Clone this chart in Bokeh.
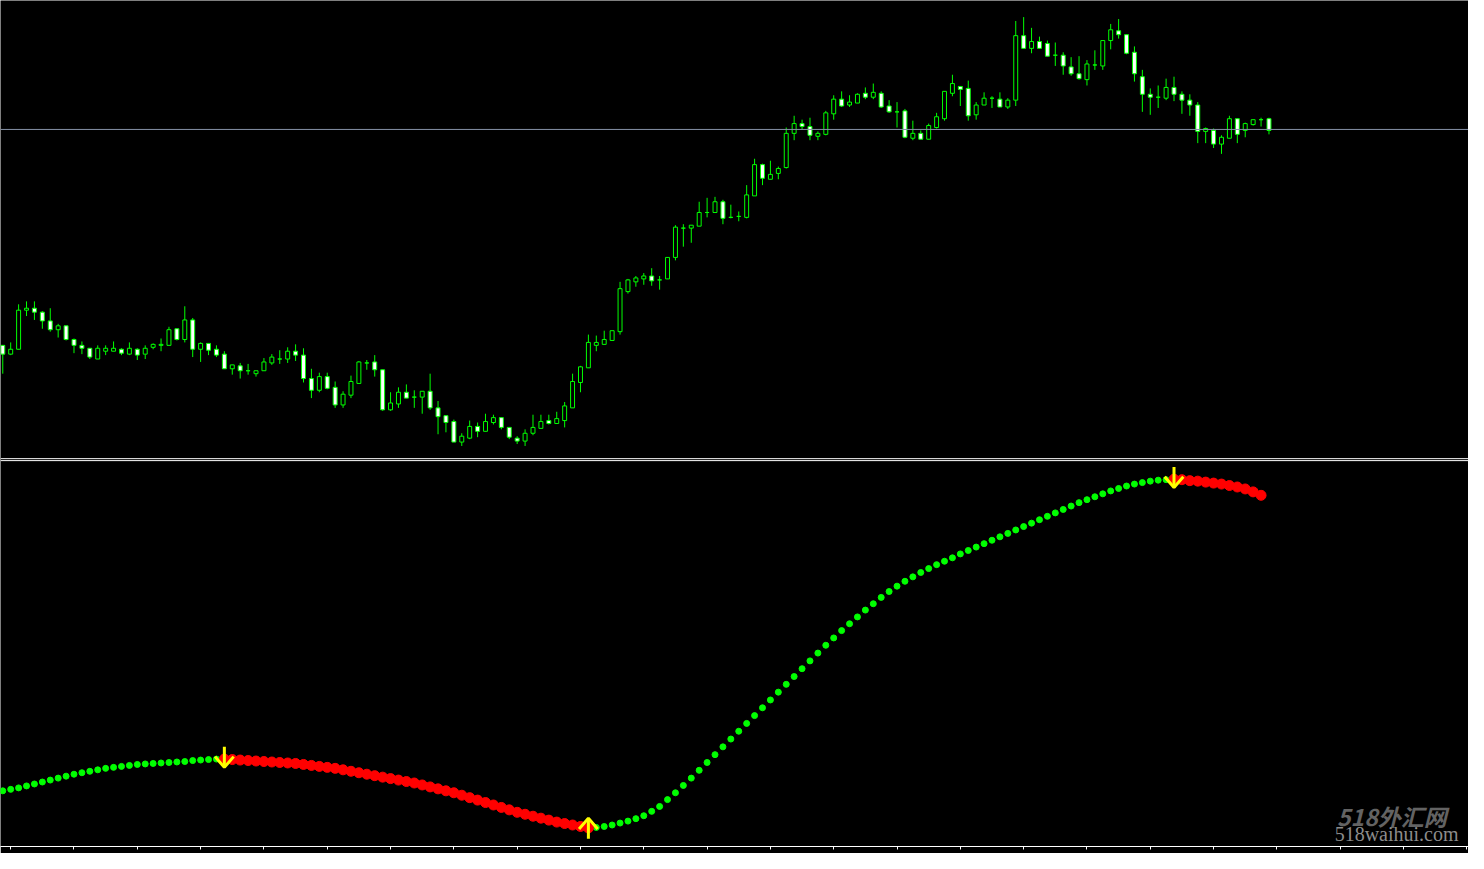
from bokeh.plotting import figure
from bokeh.models import Range1d, Span, Label, FixedTicker, ColumnDataSource
from bokeh.embed import file_html
from bokeh.resources import INLINE

# ---- price data (OHLC), one entry per bar ----
opens = [1.3147, 1.3138, 1.3143, 1.3183, 1.3185, 1.3181, 1.3172, 1.3163, 1.3167, 1.3153,
         1.3147, 1.3144, 1.3133, 1.3141, 1.3141, 1.3143, 1.3138, 1.3143, 1.3138, 1.3145,
         1.3147, 1.3147, 1.3164, 1.3153, 1.3173, 1.3143, 1.3149, 1.3143, 1.3138, 1.3123,
         1.3126, 1.3121, 1.3118, 1.3121, 1.3129, 1.3133, 1.3133, 1.3141, 1.3137, 1.3113,
         1.3101, 1.3115, 1.3104, 1.3086, 1.3096, 1.3108, 1.3129, 1.3130, 1.3122, 1.3081,
         1.3087, 1.3099, 1.3094, 1.3094, 1.3100, 1.3083, 1.3075, 1.3069, 1.3048, 1.3052,
         1.3064, 1.3059, 1.3068, 1.3073, 1.3063, 1.3052, 1.3049, 1.3057, 1.3062, 1.3070,
         1.3067, 1.3070, 1.3083, 1.3109, 1.3124, 1.3147, 1.3148, 1.3152, 1.3161, 1.3202,
         1.3212, 1.3215, 1.3218, 1.3214, 1.3215, 1.3237, 1.3267, 1.3267, 1.3269, 1.3283,
         1.3283, 1.3294, 1.3278, 1.3279, 1.3278, 1.3300, 1.3332, 1.3317, 1.3323, 1.3329,
         1.3364, 1.3374, 1.3371, 1.3361, 1.3363, 1.3384, 1.3399, 1.3393, 1.3395, 1.3405,
         1.3401, 1.3405, 1.3392, 1.3386, 1.3387, 1.3359, 1.3364, 1.3358, 1.3370, 1.3379,
         1.3405, 1.3412, 1.3410, 1.3383, 1.3393, 1.3400, 1.3399, 1.3391, 1.3398, 1.3464,
         1.3451, 1.3458, 1.3456, 1.3444, 1.3444, 1.3432, 1.3425, 1.3419, 1.3434, 1.3433,
         1.3459, 1.3469, 1.3465, 1.3447, 1.3422, 1.3404, 1.3401, 1.3400, 1.3411, 1.3404,
         1.3398, 1.3393, 1.3366, 1.3367, 1.3353, 1.3359, 1.3379, 1.3367, 1.3373, 1.3378,
         1.3379]
highs = [1.3147, 1.3150, 1.3189, 1.3192, 1.3192, 1.3182, 1.3185, 1.3169, 1.3167, 1.3154,
         1.3151, 1.3144, 1.3147, 1.3147, 1.3151, 1.3144, 1.3150, 1.3144, 1.3147, 1.3149,
         1.3154, 1.3166, 1.3164, 1.3187, 1.3175, 1.3150, 1.3149, 1.3147, 1.3141, 1.3127,
         1.3129, 1.3128, 1.3121, 1.3134, 1.3138, 1.3142, 1.3145, 1.3148, 1.3144, 1.3123,
         1.3119, 1.3119, 1.3110, 1.3100, 1.3116, 1.3131, 1.3132, 1.3137, 1.3122, 1.3099,
         1.3104, 1.3107, 1.3101, 1.3100, 1.3118, 1.3090, 1.3075, 1.3071, 1.3057, 1.3070,
         1.3068, 1.3077, 1.3076, 1.3073, 1.3063, 1.3054, 1.3061, 1.3076, 1.3076, 1.3076,
         1.3079, 1.3089, 1.3118, 1.3126, 1.3158, 1.3157, 1.3162, 1.3162, 1.3212, 1.3215,
         1.3218, 1.3221, 1.3226, 1.3218, 1.3237, 1.3270, 1.3271, 1.3270, 1.3294, 1.3298,
         1.3299, 1.3296, 1.3291, 1.3284, 1.3311, 1.3338, 1.3333, 1.3336, 1.3330, 1.3370,
         1.3382, 1.3378, 1.3380, 1.3366, 1.3387, 1.3403, 1.3407, 1.3403, 1.3405, 1.3411,
         1.3415, 1.3407, 1.3398, 1.3396, 1.3389, 1.3377, 1.3367, 1.3374, 1.3385, 1.3407,
         1.3424, 1.3412, 1.3418, 1.3396, 1.3406, 1.3402, 1.3406, 1.3400, 1.3479, 1.3483,
         1.3472, 1.3463, 1.3459, 1.3457, 1.3447, 1.3442, 1.3443, 1.3439, 1.3449, 1.3459,
         1.3476, 1.3481, 1.3465, 1.3453, 1.3429, 1.3410, 1.3413, 1.3420, 1.3422, 1.3407,
         1.3404, 1.3396, 1.3370, 1.3369, 1.3362, 1.3382, 1.3379, 1.3375, 1.3378, 1.3380,
         1.3380]
lows = [1.3118, 1.3137, 1.3143, 1.3177, 1.3173, 1.3164, 1.3161, 1.3155, 1.3152, 1.3139,
        1.3138, 1.3133, 1.3133, 1.3137, 1.3141, 1.3137, 1.3137, 1.3132, 1.3133, 1.3143,
        1.3141, 1.3147, 1.3152, 1.3150, 1.3135, 1.3130, 1.3137, 1.3135, 1.3123, 1.3117,
        1.3113, 1.3117, 1.3115, 1.3121, 1.3127, 1.3128, 1.3129, 1.3131, 1.3109, 1.3093,
        1.3099, 1.3102, 1.3083, 1.3083, 1.3093, 1.3108, 1.3122, 1.3115, 1.3080, 1.3080,
        1.3083, 1.3093, 1.3083, 1.3077, 1.3081, 1.3056, 1.3058, 1.3048, 1.3044, 1.3051,
        1.3053, 1.3059, 1.3066, 1.3061, 1.3051, 1.3046, 1.3044, 1.3055, 1.3062, 1.3066,
        1.3067, 1.3063, 1.3083, 1.3099, 1.3124, 1.3141, 1.3148, 1.3152, 1.3158, 1.3200,
        1.3207, 1.3209, 1.3208, 1.3204, 1.3215, 1.3234, 1.3248, 1.3252, 1.3269, 1.3278,
        1.3283, 1.3271, 1.3277, 1.3274, 1.3277, 1.3300, 1.3311, 1.3317, 1.3317, 1.3328,
        1.3357, 1.3368, 1.3357, 1.3357, 1.3362, 1.3378, 1.3391, 1.3391, 1.3395, 1.3399,
        1.3399, 1.3390, 1.3385, 1.3370, 1.3359, 1.3357, 1.3358, 1.3358, 1.3369, 1.3377,
        1.3402, 1.3392, 1.3377, 1.3378, 1.3393, 1.3390, 1.3391, 1.3389, 1.3392, 1.3451,
        1.3446, 1.3451, 1.3443, 1.3433, 1.3424, 1.3423, 1.3419, 1.3413, 1.3429, 1.3429,
        1.3450, 1.3461, 1.3445, 1.3417, 1.3386, 1.3383, 1.3390, 1.3398, 1.3397, 1.3384,
        1.3382, 1.3354, 1.3354, 1.3349, 1.3343, 1.3359, 1.3354, 1.3360, 1.3372, 1.3371,
        1.3363]
closes = [1.3138, 1.3143, 1.3183, 1.3185, 1.3181, 1.3172, 1.3163, 1.3167, 1.3153, 1.3147,
          1.3144, 1.3135, 1.3144, 1.3144, 1.3144, 1.3139, 1.3144, 1.3137, 1.3144, 1.3148,
          1.3148, 1.3163, 1.3153, 1.3173, 1.3143, 1.3149, 1.3142, 1.3137, 1.3123, 1.3127,
          1.3121, 1.3121, 1.3121, 1.3130, 1.3135, 1.3133, 1.3141, 1.3137, 1.3113, 1.3101,
          1.3115, 1.3103, 1.3086, 1.3097, 1.3110, 1.3130, 1.3129, 1.3122, 1.3081, 1.3088,
          1.3099, 1.3093, 1.3094, 1.3100, 1.3083, 1.3074, 1.3068, 1.3048, 1.3054, 1.3064,
          1.3059, 1.3069, 1.3073, 1.3063, 1.3053, 1.3049, 1.3057, 1.3063, 1.3069, 1.3067,
          1.3072, 1.3085, 1.3110, 1.3125, 1.3150, 1.3150, 1.3153, 1.3162, 1.3205, 1.3214,
          1.3216, 1.3218, 1.3213, 1.3214, 1.3237, 1.3268, 1.3267, 1.3270, 1.3283, 1.3283,
          1.3294, 1.3277, 1.3278, 1.3279, 1.3301, 1.3332, 1.3318, 1.3322, 1.3328, 1.3364,
          1.3374, 1.3371, 1.3362, 1.3364, 1.3385, 1.3399, 1.3392, 1.3396, 1.3404, 1.3401,
          1.3406, 1.3391, 1.3386, 1.3386, 1.3360, 1.3364, 1.3358, 1.3372, 1.3381, 1.3407,
          1.3415, 1.3409, 1.3382, 1.3393, 1.3400, 1.3400, 1.3391, 1.3398, 1.3464, 1.3451,
          1.3458, 1.3451, 1.3443, 1.3444, 1.3433, 1.3425, 1.3420, 1.3435, 1.3434, 1.3459,
          1.3470, 1.3465, 1.3446, 1.3425, 1.3404, 1.3401, 1.3401, 1.3411, 1.3404, 1.3398,
          1.3393, 1.3366, 1.3369, 1.3353, 1.3360, 1.3379, 1.3363, 1.3374, 1.3378, 1.3378,
          1.3367]

# ---- indicator (lower window), one value per bar, last bar not drawn ----
indicator = [57, 58.5, 60, 62, 64, 66, 68, 70, 72, 74,
             75.5, 77, 78.5, 80, 81, 82, 83, 84, 84.5, 85,
             85.5, 86, 86.5, 87, 88, 88.5, 89, 89.5, 89.5, 89,
             88.5, 88, 87.5, 87, 86.5, 86, 85.5, 85, 84, 83,
             82, 81, 80, 78.5, 77, 75.5, 74, 72.5, 71, 69.5,
             68, 66.5, 65, 63, 61, 59, 57, 55, 52.5, 50,
             47.5, 45, 42.5, 40, 37.5, 35, 33, 31, 29, 27,
             25, 23.5, 22, 20.5, 19, 19.5, 20.5, 22, 24, 26,
             28.5, 31.5, 36, 41, 48, 55, 62.5, 70, 78, 86,
             94, 102, 110, 118, 126, 134, 142, 150, 158, 166,
             174, 182, 190, 198, 206, 213.5, 221, 228, 235, 242,
             248.5, 255, 261, 266.5, 271.5, 276, 280.5, 284.5, 288.5, 292,
             295.5, 299.5, 303, 306.5, 310, 313.5, 317, 320.5, 324, 327.5,
             331, 334.5, 338, 341.5, 345, 348.5, 352, 355, 358, 361,
             364, 366.5, 369, 371, 372.5, 374, 375, 375.5, 376, 375.5,
             374.5, 374, 373, 372, 371, 369.5, 368, 366, 363, 359.5]
# trend segments: first bar of each segment and its direction
segment_start = [0, 28, 75, 148]
segment_trend = ["up", "down", "up", "down"]
# signal arrows (bar index)
sell_signals = [28, 148]
buy_signals = [74]

ask_price = 1.3368

BULL = "#00FF00"
GREEN_DOT = "#00FF00"
RED_DOT = "#FF0000"
ARROW = "#FFFF00"

n = len(opens)
bars = list(range(n))

p = figure(width=1468, height=853, output_backend="svg", toolbar_location=None,
           x_range=Range1d(-0.2875, 185.2125), y_range=Range1d(1.2634, 1.35),
           y_axis_location=None, min_border=0,
           background_fill_color="black", border_fill_color="black",
           outline_line_color=None)
p.extra_y_ranges = {"ind": Range1d(0, 866)}
p.grid.visible = False

ax = p.xaxis[0]
ax.ticker = FixedTicker(ticks=list(range(1, 186, 8)))
ax.axis_line_color = "white"
ax.major_tick_line_color = "white"
ax.major_tick_in = 0
ax.major_tick_out = 3
ax.minor_tick_line_color = None
ax.major_label_text_font_size = "1px"
ax.major_label_text_color = "black"
ax.major_label_standoff = 0

# candles
tops = [max(o, c) for o, c in zip(opens, closes)]
bots = [min(o, c) for o, c in zip(opens, closes)]
fills = ["white" if c < o else "black" for o, c in zip(opens, closes)]
src = ColumnDataSource(dict(x=bars, h=highs, l=lows, top=tops, bottom=bots, fill=fills))
p.segment(x0="x", y0="h", x1="x", y1="l", line_color=BULL, line_width=1, source=src)
p.vbar(x="x", width=0.5, top="top", bottom="bottom", fill_color="fill",
       line_color=BULL, line_width=1, source=src)

# reference line and window separator
p.add_layout(Span(location=ask_price, dimension="width", line_color="#8591a6", line_width=1))
p.add_layout(Span(location=1.3031, dimension="width", line_color="white", line_width=1))
p.add_layout(Span(location=1.3029, dimension="width", line_color="white", line_width=1))

# indicator dots coloured by trend segment
trend = []
for i in range(len(indicator)):
    k = max(j for j, s in enumerate(segment_start) if s <= i)
    trend.append(segment_trend[k])
up_x = [i for i in range(len(indicator)) if trend[i] == "up"]
dn_x = [i for i in range(len(indicator)) if trend[i] == "down"]
p.scatter(up_x, [indicator[i] for i in up_x], size=6, color=GREEN_DOT, y_range_name="ind")
p.scatter(dn_x, [indicator[i] for i in dn_x], size=10, color=RED_DOT, y_range_name="ind")

# arrows
TAIL, TIP, ARM_H, ARM_W = 12.5, 8.5, 11, 1.18
xs, ys = [], []
for b in sell_signals:
    v = indicator[b]
    xs.append([b, b]); ys.append([v + TAIL, v - TIP])
    xs.append([b - ARM_W, b, b + ARM_W]); ys.append([v - TIP + ARM_H, v - TIP, v - TIP + ARM_H])
for b in buy_signals:
    v = indicator[b]
    xs.append([b, b]); ys.append([v - TAIL + 1.5, v + TIP + 1.5])
    xs.append([b - ARM_W, b, b + ARM_W]); ys.append([v + TIP + 1.5 - ARM_H, v + TIP + 1.5, v + TIP + 1.5 - ARM_H])
p.multi_line(xs, ys, line_color=ARROW, line_width=3, y_range_name="ind")

# watermark
p.add_layout(Label(x=168.6, y=31, y_range_name="ind", text="518外汇网",
                   text_font="Noto Sans CJK SC", text_font_style="bold italic",
                   text_font_size="23px", text_color="#636363", text_baseline="middle"))
p.add_layout(Label(x=168.3, y=2, y_range_name="ind", text="518waihui.com",
                   text_font="Liberation Serif", text_font_size="20px",
                   text_color="#8c8c8c", text_baseline="bottom"))

open("out.html", "w").write(file_html(p, INLINE))
